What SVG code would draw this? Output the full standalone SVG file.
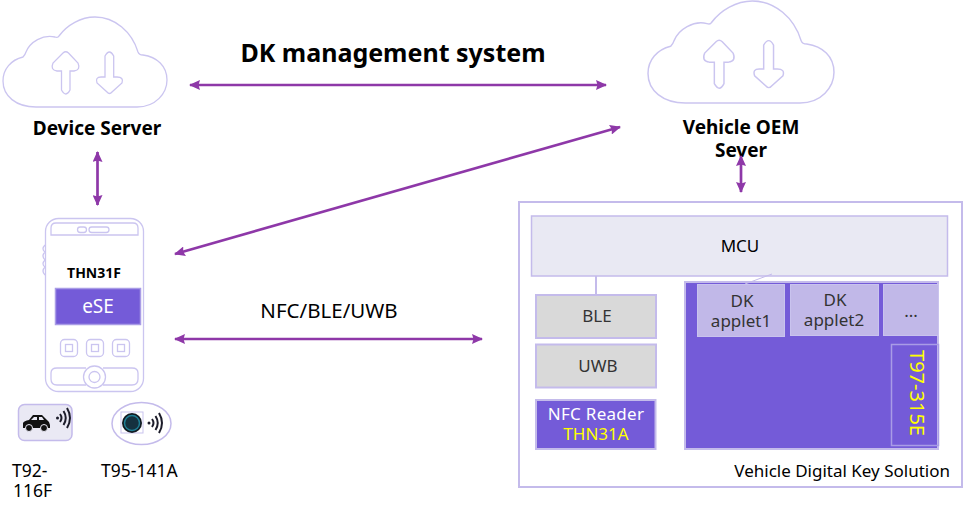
<svg xmlns="http://www.w3.org/2000/svg" width="964" height="512" viewBox="0 0 964 512">
<style>
text{font-family:"Noto Sans","Open Sans","Liberation Sans",sans-serif;fill:#000}
.o{fill:none;stroke:#cbc5f0;stroke-width:1.300}
.b{font-weight:700;font-size:19px}
.m{text-anchor:middle}
.c{fill:none;stroke:#8e38a8;stroke-width:2.700;marker-start:url(#a);marker-end:url(#a)}
.box{stroke:#c4bbeb;stroke-width:2}
.g{fill:#d9d9d9}
.p{fill:#745bd8}
.l{fill:#c1b8e8;stroke:#c9c3ee;stroke-width:1}
.t{font-size:17px}
.w{fill:none;stroke:#1c1c2a;stroke-width:2}
</style>
<defs>
<marker id="a" viewBox="0 0 11 10" refX="10" refY="5" markerWidth="11" markerHeight="10" markerUnits="userSpaceOnUse" orient="auto-start-reverse"><path d="M0 0L11 5L0 10L1.500 5Z" fill="#8e38a8"/></marker>
<g id="cloud">
<path class="o" d="M36 107H137C156 107 167 93 167 80C167 66 157 57 143 55Q139 55 138 52C132 32 115 17 95 17C81 17 67 25 59 36Q58 38 55 37C43 34 30 42 26 52Q25 55 23 57C11 60 3 69 3 81C3 96 16 107 36 107Z"/>
<path class="o" d="M61.500 90V71H57Q50 70 53 63L63 53Q65.700 50.500 68.500 53L78 63Q81 70 74 71H70V90Q66 98 61.500 90Z"/>
<path class="o" d="M105 56Q109.500 48 113.700 56V77H117Q124 77 122 83L112 92Q109.500 95 107 92L97 83Q95 77 101 77H105Z"/>
</g>
</defs>
<g id="device-server"><use href="#cloud"/><text class="b m" x="97" y="135">Device Server</text></g>
<g id="oem-server"><use href="#cloud" transform="translate(644.600 -18.300) scale(1.134 1.133)"/><text class="b m" x="741" y="134">Vehicle OEM</text><text class="b m" x="741" y="157">Sever</text></g>
<text class="m" x="393" y="62" font-weight="700" style="font-size:25px">DK management system</text>
<text class="m" x="329" y="318" style="font-size:20.500px">NFC/BLE/UWB</text>
<g id="phone">
<rect class="o" x="45.500" y="218.500" width="98" height="173" rx="13"/>
<path class="o" d="M51 235V228Q51 223 56 223H133Q138 223 138 228V235Z"/>
<rect class="o" x="77.500" y="227" width="9" height="5.500" rx="2.700"/><rect class="o" x="89" y="227" width="20" height="5.500" rx="2.700"/>
<path class="o" d="M45 245Q41 249 45 252Q41 256 45 260Q41 264 45 267Q41 271 45 275"/>
<text class="m" x="94" y="278" font-weight="700" style="font-size:14px">THN31F</text>
<rect class="p" x="55.500" y="288.500" width="85" height="36" stroke="#a99ce6" stroke-width="1.500"/>
<text class="m" x="98" y="313" style="fill:#fff;font-size:19px">eSE</text>
<rect class="o" x="60.500" y="339.500" width="17" height="17" rx="4"/><rect class="o" x="86.500" y="339.500" width="17" height="17" rx="4"/><rect class="o" x="112.500" y="339.500" width="17" height="17" rx="4"/>
<rect class="o" x="65.500" y="344.500" width="7" height="7"/><rect class="o" x="91.500" y="344.500" width="7" height="7"/><rect class="o" x="117.500" y="344.500" width="7" height="7"/>
<path class="o" d="M86 368H57Q51 368 51 373V379Q51 385 57 385H86"/><path class="o" d="M103 368H132Q138 368 138 373V379Q138 385 132 385H103"/>
<circle class="o" cx="94.500" cy="377" r="11"/><circle class="o" cx="94.500" cy="377" r="5.500"/>
</g>
<g id="t92"><rect x="18.500" y="404.500" width="53.500" height="36" rx="6" fill="#eae9f4" stroke="#c4bbeb" stroke-width="1.500"/>
<path d="M23 428V423Q24 421 29 420L33 415H42L47 420Q50 422 50 425V428Z" fill="#111"/><path d="M31 420L34 417H37V420ZM39 417H42L44 420H39Z" fill="#eae9f4"/><circle cx="29" cy="428" r="3.500" fill="#111" stroke="#eae9f4"/><circle cx="44" cy="428" r="3.500" fill="#111" stroke="#eae9f4"/>
<circle cx="57.500" cy="418" r="1.500" fill="#1c1c2a"/><path class="w" d="M60 414Q63 418 60 422M63.500 411Q68 418 63.500 425M67 408Q73 418 67 428"/>
<text x="12" y="477" style="font-size:17.500px">T92-</text><text x="13" y="497" style="font-size:17.500px">116F</text></g>
<g id="t95"><ellipse cx="141.500" cy="423.500" rx="29.500" ry="21" fill="#fff" stroke="#c4bbeb" stroke-width="1.500"/>
<rect x="121" y="412" width="22" height="21" fill="#fff" stroke="#c9c3ee"/><circle cx="132" cy="423" r="10" fill="#121a22"/><circle cx="132" cy="423" r="7.500" fill="#15313f" stroke="#1f7f95" stroke-width="1.500"/>
<circle cx="149" cy="423" r="1.500" fill="#1c1c2a"/><path class="w" d="M152 419Q155 423 152 427M155.500 416Q160 423 155.500 430M159 413Q165 423 159 433"/>
<text x="101" y="477" style="font-size:17.500px">T95-141A</text></g>
<g id="connectors">
<path class="c" d="M190 85H606"/>
<path class="c" d="M97.500 152V205"/>
<path class="c" d="M175 254L620 127"/>
<path class="c" d="M175 339H482"/>
<path class="c" d="M741 156V192"/>
</g>
<g id="solution">
<rect x="519" y="202" width="443" height="285" fill="#fff" class="box"/>
<text x="950" y="477" text-anchor="end" class="t">Vehicle Digital Key Solution</text>
</g>
<g id="mcu"><rect x="531.500" y="216" width="416" height="60" fill="#e9e9f3" stroke="#c4bbeb" stroke-width="1.500"/><text class="m t" x="740" y="252">MCU</text></g>
<path d="M596 276V295" stroke="#c4bbeb" stroke-width="2" fill="none"/>
<g id="ble"><rect class="g box" x="536" y="295" width="120" height="43"/><text class="m t" x="597" y="322" style="fill:#333">BLE</text></g>
<g id="uwb"><rect class="g box" x="536" y="344.500" width="120" height="43"/><text class="m t" x="598" y="372" style="fill:#333">UWB</text></g>
<g id="nfc"><rect class="p box" x="536" y="400" width="119.500" height="49"/><text class="m" x="596" y="420" style="fill:#fff;font-size:17px;letter-spacing:.3px">NFC Reader</text><text class="m" x="596" y="440" style="fill:#ff0;font-size:17px">THN31A</text></g>
<g id="applets"><rect class="p box" x="685" y="282" width="253" height="167"/>
<path d="M745 284L772 274" stroke="#c4bbeb" stroke-width="1" fill="none"/>
<rect class="l" x="697.500" y="284.500" width="87" height="52"/><text class="m t" x="742" y="307" style="fill:#333">DK</text><text class="m t" x="741" y="327" style="fill:#333">applet1</text>
<rect class="l" x="790.500" y="284.500" width="88" height="51"/><text class="m t" x="835" y="306" style="fill:#333">DK</text><text class="m t" x="834" y="326" style="fill:#333">applet2</text>
<rect class="l" x="883.500" y="284.500" width="55" height="51"/><text class="m t" x="911" y="317" style="fill:#333">...</text>
<rect x="891.500" y="344.500" width="47" height="101" fill="none" stroke="#a99ce6" stroke-width="1.500"/>
<text class="m" transform="translate(910 393) rotate(90)" style="fill:#ff0;font-size:20px">T97-315E</text></g>
</svg>
